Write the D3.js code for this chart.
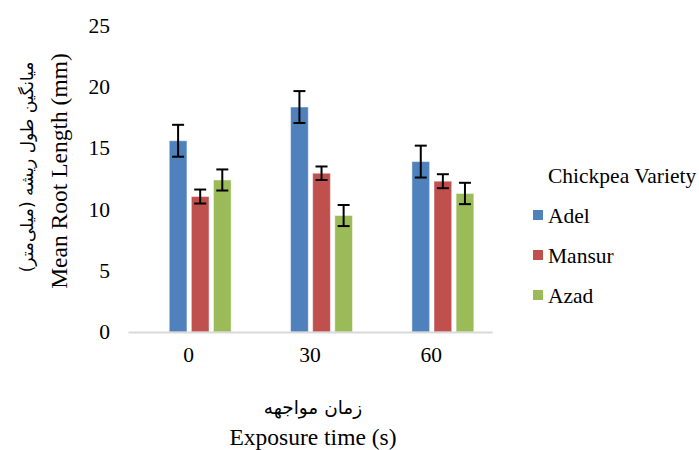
<!DOCTYPE html>
<html>
<head>
<meta charset="utf-8">
<script src="https://cdn.jsdelivr.net/npm/d3@7"></script>
<style>
  body { margin: 0; background: #fff; }
  svg { display: block; }
  text { font-family: "Liberation Serif", "Times New Roman", serif; fill: #000; }
  .fa { font-family: "DejaVu Sans", sans-serif; }
</style>
</head>
<body>
<div class="chart"></div>
<script>
// data
let categories = ["0", "30", "60"];
let series = ["Adel", "Mansur", "Azad"];
let colors = ["#4F81BD", "#C0504D", "#9BBB59"];
let adel = [15.6, 18.35, 13.9];
let adelErr = [1.3, 1.3, 1.3];
let mansur = [11.05, 12.95, 12.3];
let mansurErr = [0.57, 0.55, 0.57];
let azad = [12.4, 9.5, 11.3];
let azadErr = [0.86, 0.86, 0.87];
let yTicks = [0, 5, 10, 15, 20, 25];

let values = [adel, mansur, azad];
let errors = [adelErr, mansurErr, azadErr];

let width = 699, height = 450;
let plot = {left: 128, right: 492, top: 25.5, bottom: 332};

let svg = d3.select(".chart").append("svg").attr("width", width).attr("height", height);

let x0 = d3.scaleBand().domain(categories).range([plot.left, plot.right]);
// bars sit a bit right of the category centre, like the original
let x1 = d3.scaleBand().domain(series)
  .range([x0.bandwidth() * 0.34, x0.bandwidth() * 0.85])
  .paddingInner(0.2);
let y = d3.scaleLinear().domain([0, 25]).range([plot.bottom, plot.top]);

// y tick labels
let yAxis = d3.axisLeft(y).tickValues(yTicks).tickSize(0).tickPadding(0);
let yg = svg.append("g").attr("transform", "translate(110,0)").call(yAxis);
yg.select(".domain").remove();
yg.selectAll("text").attr("font-size", 21.5).attr("fill", "#000");

// bars
let rows = [];
series.forEach((s, i) => {
  categories.forEach((c, j) => {
    rows.push({s: s, c: c, v: values[i][j], e: errors[i][j], color: colors[i]});
  });
});

let bars = svg.append("g");
bars.selectAll("rect").data(rows).enter().append("rect")
  .attr("x", d => x0(d.c) + x1(d.s))
  .attr("y", d => y(d.v))
  .attr("width", x1.bandwidth())
  .attr("height", d => y(0) - y(d.v))
  .attr("fill", d => d.color)
  .attr("stroke", "#fff").attr("stroke-opacity", 0.45).attr("stroke-width", 1);

// x axis line
let xAxis = d3.axisBottom(x0).tickSize(0).tickPadding(15);
let xg = svg.append("g").attr("transform", "translate(0," + plot.bottom + ")").call(xAxis);
xg.select(".domain").attr("stroke", "#D9D9D9").attr("stroke-width", 2);
xg.selectAll("text").attr("font-size", 21.5).attr("fill", "#000");

// error bars
let eb = svg.append("g").attr("stroke", "#000").attr("stroke-width", 2);
rows.forEach(d => {
  let cx = x0(d.c) + x1(d.s) + x1.bandwidth() / 2;
  eb.append("line").attr("x1", cx).attr("x2", cx).attr("y1", y(d.v + d.e)).attr("y2", y(d.v - d.e));
  eb.append("line").attr("x1", cx - 6).attr("x2", cx + 6).attr("y1", y(d.v + d.e)).attr("y2", y(d.v + d.e));
  eb.append("line").attr("x1", cx - 6).attr("x2", cx + 6).attr("y1", y(d.v - d.e)).attr("y2", y(d.v - d.e));
});

// axis titles
svg.append("text").attr("class", "fa").attr("direction", "rtl")
  .attr("transform", "translate(33,167)rotate(-90)")
  .attr("text-anchor", "middle").attr("font-size", 17)
  .text("میانگین طول ریشه (میلی‌متر)");
svg.append("text")
  .attr("transform", "translate(67,171)rotate(-90)")
  .attr("text-anchor", "middle").attr("font-size", 23.5)
  .text("Mean Root Length (mm)");

svg.append("text").attr("class", "fa").attr("direction", "rtl")
  .attr("x", 313).attr("y", 414)
  .attr("text-anchor", "middle").attr("font-size", 18.5)
  .text("زمان مواجهه");
svg.append("text")
  .attr("x", 313).attr("y", 445)
  .attr("text-anchor", "middle").attr("font-size", 23.5)
  .text("Exposure time (s)");

// legend
let legend = svg.append("g");
legend.append("text").attr("x", 548).attr("y", 183).attr("font-size", 21.5).text("Chickpea Variety");
series.forEach((s, i) => {
  let ly = 210 + i * 40;
  legend.append("rect").attr("x", 533).attr("y", ly).attr("width", 10).attr("height", 10).attr("fill", colors[i]);
  legend.append("text").attr("x", 548).attr("y", ly + 12.5).attr("font-size", 21.5).text(s);
});
</script>
</body>
</html>
